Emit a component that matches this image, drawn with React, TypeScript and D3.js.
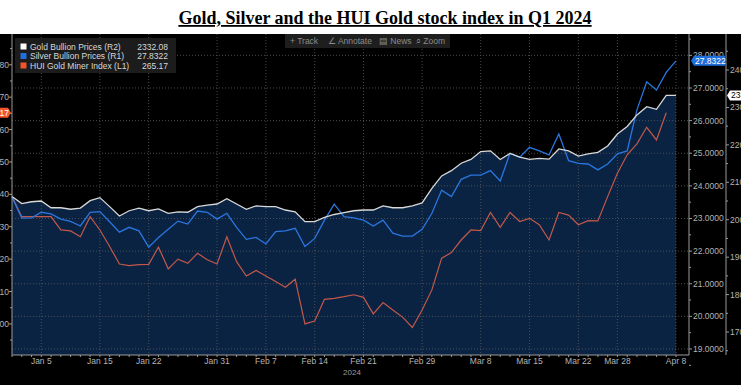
import React from "react";
import * as d3 from "d3";

const dates = [
  "Jan 2","Jan 3","Jan 4","Jan 5","Jan 8","Jan 9","Jan 10","Jan 11","Jan 12","Jan 15",
  "Jan 16","Jan 17","Jan 18","Jan 19","Jan 22","Jan 23","Jan 24","Jan 25","Jan 26","Jan 29",
  "Jan 30","Jan 31","Feb 1","Feb 2","Feb 5","Feb 6","Feb 7","Feb 8","Feb 9","Feb 12",
  "Feb 13","Feb 14","Feb 15","Feb 16","Feb 19","Feb 20","Feb 21","Feb 22","Feb 23","Feb 26",
  "Feb 27","Feb 28","Feb 29","Mar 1","Mar 4","Mar 5","Mar 6","Mar 7","Mar 8","Mar 11",
  "Mar 12","Mar 13","Mar 14","Mar 15","Mar 18","Mar 19","Mar 20","Mar 21","Mar 22","Mar 25",
  "Mar 26","Mar 27","Mar 28","Apr 1","Apr 2","Apr 3","Apr 4","Apr 5","Apr 8",
];

const gold = [
  2062, 2043, 2048, 2050, 2032, 2032, 2028, 2031, 2051, 2059,
  2035, 2010, 2024, 2031, 2024, 2029, 2017, 2021, 2020, 2035,
  2039, 2042, 2056, 2042, 2028, 2037, 2035, 2035, 2026, 2021,
  1995, 1995, 2006, 2014, 2019, 2024, 2026, 2026, 2037, 2032,
  2032, 2037, 2045, 2084, 2117, 2131, 2151, 2161, 2182, 2184,
  2161, 2177, 2167, 2161, 2164, 2162, 2189, 2184, 2170, 2176,
  2180, 2197, 2229, 2249, 2280, 2302, 2295, 2332, 2332.08,
];

const silver = [
  23.66, 23.01, 23.02, 23.19, 23.14, 22.98, 22.91, 22.77, 23.19, 23.21,
  22.9, 22.58, 22.73, 22.62, 22.12, 22.42, 22.67, 22.92, 22.83, 23.23,
  23.19, 22.98, 23.16, 22.73, 22.36, 22.42, 22.22, 22.6, 22.62, 22.7,
  22.14, 22.39, 22.95, 23.44, 23.06, 23.02, 22.95, 22.77, 22.95, 22.55,
  22.46, 22.46, 22.67, 23.16, 23.87, 23.67, 24.2, 24.33, 24.33, 24.47,
  24.15, 25.0, 24.88, 25.18, 25.07, 24.95, 25.59, 24.77, 24.69, 24.67,
  24.49, 24.67, 24.98, 25.07, 26.33, 27.19, 26.94, 27.48, 27.8322,
];

const hui: (number | null)[] = [
  239.3, 233.1, 233.1, 233.1, 233.1, 229.0, 228.7, 226.9, 233.1, 229.0,
  223.9, 218.5, 218.0, 218.3, 218.4, 223.7, 217.0, 220.0, 218.7, 221.8,
  219.8, 218.5, 226.9, 219.2, 214.8, 216.5, 214.8, 213.1, 211.3, 213.8,
  200.0, 200.9, 207.6, 207.9, 208.4, 209.0, 208.2, 203.1, 206.6, 204.3,
  202.1, 198.9, 204.3, 210.5, 220.3, 222.0, 225.9, 229.0, 228.8, 234.4,
  229.8, 234.4, 231.6, 232.6, 230.6, 225.9, 234.4, 233.6, 230.6, 231.9,
  231.8, 239.3, 246.5, 252.2, 255.6, 260.7, 256.8, 265.17, null,
];

const xTickLabels = ["Jan 5","Jan 15","Jan 22","Jan 31","Feb 7","Feb 14","Feb 21","Feb 29","Mar 8","Mar 15","Mar 22","Mar 28","Apr 8"];
const huiTicks = [200, 210, 220, 230, 240, 250, 260, 270, 280];
const silverTicks = [19, 20, 21, 22, 23, 24, 25, 26, 27, 28];
const goldTicks = [1700, 1800, 1900, 2000, 2100, 2200, 2300, 2400];

const legendNames = ["Gold Bullion Prices (R2)", "Silver Bullion Prices (R1)", "HUI Gold Miner Index  (L1)"];
const legendValues = ["2332.08", "27.8322", "265.17"];
const toolbarItems = ["+ Track", "\u2220 Annotate", "\u25A4 News", "\u2315 Zoom"];

const W = 741, H = 385;
const TOP = 34, BOTTOM = 355, LEFT = 12, RIGHT = 676, R1X = 689, R2X = 726;
const GOLD_C = "#d8d8d8", SILVER_C = "#2a76e0", HUI_C = "#c2584a";
const FONT = "'Liberation Sans', Arial, sans-serif";

export default function App() {
  const x = d3.scaleLinear().domain([0, dates.length - 1]).range([LEFT, RIGHT]);
  const yH = d3.scaleLinear().domain([190.4, 289.5]).range([BOTTOM, TOP]);
  const yS = d3.scaleLinear().domain([18.816, 28.655]).range([BOTTOM, TOP]);
  const yG = d3.scaleLinear().domain([1638.6, 2496.2]).range([BOTTOM, TOP]);

  const idx = dates.map((_, i) => i);
  const area = d3.area<number>().x((i) => x(i)).y0(BOTTOM).y1((i) => yG(gold[i]))(idx) || "";
  const goldLine = d3.line<number>().x((i) => x(i)).y((i) => yG(gold[i]))(idx) || "";
  const silverLine = d3.line<number>().x((i) => x(i)).y((i) => yS(silver[i]))(idx) || "";
  const huiLine = d3.line<number>().defined((i) => hui[i] != null).x((i) => x(i)).y((i) => yH(hui[i] as number))(idx) || "";

  const lastHui = hui.filter((v) => v != null).slice(-1)[0] as number;
  const lastSil = silver[silver.length - 1];
  const lastGold = gold[gold.length - 1];

  const huiMinor = d3.range(195, 290, 10);
  const silMinor = d3.range(18.5, 28.6, 1);
  const goldMinor = d3.range(1650, 2496, 100);

  return (
    <div style={{ position: "absolute", left: 0, top: 0 }}>
      <svg width={W} height={H} style={{ display: "block", background: "#fff" }} fontFamily={FONT}>
        <text x={385} y={24} textAnchor="middle" fontFamily="'Liberation Serif', 'Times New Roman', serif" fontWeight="bold" fontSize={18} textDecoration="underline" fill="#000">
          Gold, Silver and the HUI Gold stock index in Q1 2024
        </text>
        <rect x={0} y={TOP} width={W} height={H - TOP} fill="#000" />
        <path d={area} fill="#0b2342" />
        {/* grid */}
        {silverTicks.map((t) => (
          <line key={"hg" + t} x1={LEFT} x2={R1X} y1={yS(t)} y2={yS(t)} stroke="#5a5a5a" strokeWidth={0.8} strokeDasharray="1,2" />
        ))}
        {xTickLabels.map((l) => (
          <line key={"vg" + l} x1={x(dates.indexOf(l))} x2={x(dates.indexOf(l))} y1={TOP} y2={BOTTOM} stroke="#5a5a5a" strokeWidth={0.8} strokeDasharray="1,2" />
        ))}
        {/* lines */}
        <path d={huiLine} fill="none" stroke={HUI_C} strokeWidth={1.2} />
        <path d={silverLine} fill="none" stroke={SILVER_C} strokeWidth={1.3} />
        <path d={goldLine} fill="none" stroke={GOLD_C} strokeWidth={1.3} />

        {/* x axis */}
        <line x1={LEFT} x2={R1X} y1={BOTTOM} y2={BOTTOM} stroke="#9a9a9a" strokeWidth={1} />
        {idx.map((i) => (
          <line key={"xt" + i} x1={x(i)} x2={x(i)} y1={BOTTOM} y2={BOTTOM + 2} stroke="#9a9a9a" strokeWidth={1} />
        ))}
        {xTickLabels.map((l) => (
          <text key={"xl" + l} x={x(dates.indexOf(l))} y={364} textAnchor="middle" fontSize={8.5} fill="#b4b4b4">{l}</text>
        ))}
        <text x={352} y={375} textAnchor="middle" fontSize={8} fill="#9a9a9a">2024</text>

        {/* left axis */}
        <line x1={LEFT} x2={LEFT} y1={TOP} y2={BOTTOM} stroke="#9a9a9a" strokeWidth={1} />
        {huiTicks.map((t) => (
          <g key={"ht" + t}>
            <line x1={LEFT - 3} x2={LEFT} y1={yH(t)} y2={yH(t)} stroke="#9a9a9a" />
            <text x={LEFT - 3} y={yH(t) + 3} textAnchor="end" fontSize={8.5} fill="#b4b4b4">{t}</text>
          </g>
        ))}
        {huiMinor.map((t) => (
          <line key={"hm" + t} x1={LEFT - 2} x2={LEFT} y1={yH(t)} y2={yH(t)} stroke="#9a9a9a" />
        ))}

        {/* R1 axis */}
        <line x1={R1X} x2={R1X} y1={TOP} y2={BOTTOM} stroke="#9a9a9a" strokeWidth={1} />
        {silverTicks.map((t) => (
          <g key={"st" + t}>
            <line x1={R1X} x2={R1X + 3} y1={yS(t)} y2={yS(t)} stroke="#9a9a9a" />
            <text x={R1X + 4} y={yS(t) + 3} fontSize={8.5} fill="#b4b4b4">{t.toFixed(4)}</text>
          </g>
        ))}
        {silMinor.map((t) => (
          <line key={"sm" + t} x1={R1X} x2={R1X + 2} y1={yS(t)} y2={yS(t)} stroke="#9a9a9a" />
        ))}

        {/* R2 axis */}
        <line x1={R2X} x2={R2X} y1={TOP} y2={BOTTOM} stroke="#9a9a9a" strokeWidth={1} />
        {goldTicks.map((t) => (
          <g key={"gt" + t}>
            <line x1={R2X} x2={R2X + 3} y1={yG(t)} y2={yG(t)} stroke="#9a9a9a" />
            <text x={R2X + 4} y={yG(t) + 3} fontSize={8.5} fill="#b4b4b4">{t.toFixed(2)}</text>
          </g>
        ))}
        {goldMinor.map((t) => (
          <line key={"gm" + t} x1={R2X} x2={R2X + 2} y1={yG(t)} y2={yG(t)} stroke="#9a9a9a" />
        ))}

        {/* last value tags */}
        <g>
          <path d={`M${R1X + 2},${yS(lastSil)} L${R1X + 5},${yS(lastSil) - 5} H${R1X + 36} V${yS(lastSil) + 5} H${R1X + 5} Z`} fill="#1f6fdc" />
          <text x={R1X + 6} y={yS(lastSil) + 3} fontSize={8.5} fill="#fff">{lastSil.toFixed(4)}</text>
        </g>
        <g>
          <path d={`M${R2X + 1},${yG(lastGold)} L${R2X + 4},${yG(lastGold) - 5} H${W + 30} V${yG(lastGold) + 5} H${R2X + 4} Z`} fill="#ffffff" />
          <text x={R2X + 5} y={yG(lastGold) + 3} fontSize={8.5} fill="#000">{lastGold.toFixed(2)}</text>
        </g>
        <g>
          <path d={`M${LEFT - 1},${yH(lastHui)} L${LEFT - 4},${yH(lastHui) - 5} H-30 V${yH(lastHui) + 5} H${LEFT - 4} Z`} fill="#f0552b" />
          <text x={LEFT - 3} y={yH(lastHui) + 3} textAnchor="end" fontSize={8.5} fill="#fff">{lastHui.toFixed(2)}</text>
        </g>

        {/* legend */}
        <rect x={15} y={38} width={161} height={35} fill="#1c1c1c" />
        {legendNames.map((n, i) => {
          const cy = 46.5 + i * 9.5;
          const c = [GOLD_C === "#d8d8d8" ? "#ffffff" : GOLD_C, "#1f6fdc", "#f0552b"][i];
          return (
            <g key={"lg" + i}>
              <rect x={20.5} y={cy - 3} width={6} height={6} fill={c} />
              <text x={30} y={cy + 3} fontSize={8.5} fill="#d8d8d8">{n}</text>
              <text x={168} y={cy + 3} textAnchor="end" fontSize={8.5} fill="#d8d8d8">{legendValues[i]}</text>
            </g>
          );
        })}

        {/* toolbar */}
        <rect x={285} y={TOP} width={165} height={14} fill="#1e1e1e" />
        {toolbarItems.map((t, i) => (
          <text key={"tb" + i} x={[290, 328, 379, 416][i]} y={TOP + 10} fontSize={8.5} fill="#8c8c8c">{t}</text>
        ))}
      </svg>
    </div>
  );
}
